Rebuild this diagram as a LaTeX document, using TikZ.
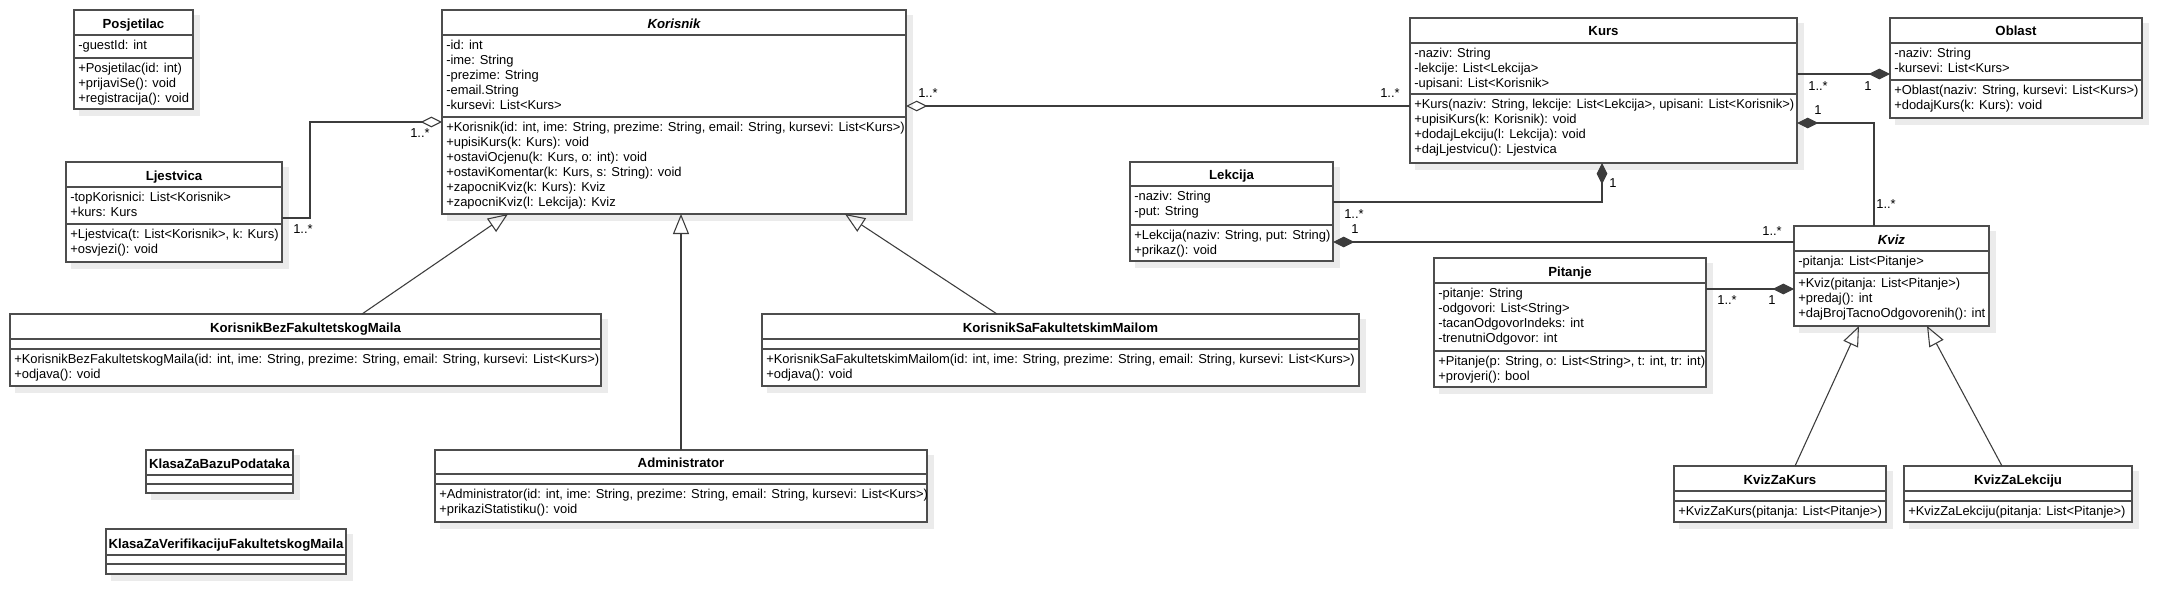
\documentclass[tikz,border=0pt]{standalone}
\usepackage{fontspec}
\setmainfont{Liberation Sans}
\usetikzlibrary{arrows.meta,calc,fit}
\definecolor{boxc}{HTML}{4D4D4D}
\definecolor{linec}{HTML}{3C3C3C}
\definecolor{shadc}{HTML}{EBEBEB}
\tikzset{
 box/.style={draw=boxc, fill=white, line width=1.1pt, inner sep=0pt, outer sep=0pt},
 sepline/.style={draw=boxc, line width=1.1pt},
 txt/.style={font=\fontsize{9.7}{11}\selectfont, inner sep=0pt, text=black},
 ttl/.style={font=\fontsize{9.9}{11}\selectfont\bfseries, inner sep=0pt, text=black},
 conn/.style={draw=linec, line width=0.8pt},
 gen/.style={conn, -{Triangle[open, length=15pt, width=12pt]}},
 agg/.style={conn, -{Diamond[open, length=16pt, width=8pt]}},
 comp/.style={conn, -{Diamond[length=16pt, width=8pt]}},
 mult/.style={font=\fontsize{9.7}{11}\selectfont, inner sep=0pt, text=black},
}
% #1 name, #2 x1, #3 y1, #4 x2, #5 y2, #6 header sep, #7 attribute sep
\newcommand\umlbox[7]{%
  \fill[shadc] (#2+5,#3+5) rectangle (#4+7,#5+7);
  \node[box, fit={(#2,#3)(#4,#5)}] (#1) {};
  \draw[sepline] (#2,#6) -- (#4,#6);
  \draw[sepline] (#2,#7) -- (#4,#7);
}
% #1 name, #2 x1, #3 x2, #4 baseline, #5 text
\newcommand\umltitle[5]{%
  \node[ttl, anchor=base] (#1) at ({(#2+#3)/2},#4) {#5};
}
% #1 name prefix, #2 x1, #3 first baseline, #4 list of lines
\newcommand\umllines[4]{%
  \foreach \t [count=\i from 0] in {#4} {
    \node[txt, anchor=base west] (#1\i) at (#2+4,#3+15*\i) {\t};
  }
}
\begin{document}
\begin{tikzpicture}[x=0.75pt,y=-0.75pt]
\fill[white] (0,0) rectangle (2182,614);
\useasboundingbox (0,0) rectangle (2182,614);

% Posjetilac
\umlbox{posj}{74}{10}{193}{109}{35}{58}
\umltitle{posjt}{74}{193}{28}{Posjetilac}
\umllines{posja}{74}{49}{{-guestId: int}}
\umllines{posjm}{74}{72}{{+Posjetilac(id: int)},{+prijaviSe(): void},{+registracija(): void}}

% Korisnik
\umlbox{korisnik}{442}{10}{906}{214}{35}{117}
\umltitle{korisnikt}{442}{906}{28}{\itshape Korisnik}
\umllines{korisnika}{442}{49}{{-id: int},{-ime: String},{-prezime: String},{-email.String},{-kursevi: List<Kurs>}}
\umllines{korisnikm}{442}{131}{{+Korisnik(id: int, ime: String, prezime: String, email: String, kursevi: List<Kurs>)},{+upisiKurs(k: Kurs): void},{+ostaviOcjenu(k: Kurs, o: int): void},{+ostaviKomentar(k: Kurs, s: String): void},{+zapocniKviz(k: Kurs): Kviz},{+zapocniKviz(l: Lekcija): Kviz}}

% Ljestvica
\umlbox{ljestvica}{66}{162}{282}{262}{187}{224}
\umltitle{ljestvicat}{66}{282}{180}{Ljestvica}
\umllines{ljestvicaa}{66}{201}{{-topKorisnici: List<Korisnik>},{+kurs: Kurs}}
\umllines{ljestvicam}{66}{238}{{+Ljestvica(t: List<Korisnik>, k: Kurs)},{+osvjezi(): void}}

% Kurs
\umlbox{kurs}{1410}{18}{1797}{163}{43}{94}
\umltitle{kurst}{1410}{1797}{36}{Kurs}
\umllines{kursa}{1410}{57}{{-naziv: String},{-lekcije: List<Lekcija>},{-upisani: List<Korisnik>}}
\umllines{kursm}{1410}{108}{{+Kurs(naziv: String, lekcije: List<Lekcija>, upisani: List<Korisnik>)},{+upisiKurs(k: Korisnik): void},{+dodajLekciju(l: Lekcija): void},{+dajLjestvicu(): Ljestvica}}

% Oblast
\umlbox{oblast}{1890}{18}{2142}{118}{43}{80}
\umltitle{oblastt}{1890}{2142}{36}{Oblast}
\umllines{oblasta}{1890}{57}{{-naziv: String},{-kursevi: List<Kurs>}}
\umllines{oblastm}{1890}{94}{{+Oblast(naziv: String, kursevi: List<Kurs>)},{+dodajKurs(k: Kurs): void}}

% Lekcija
\umlbox{lekcija}{1130}{162}{1333}{261}{186}{225}
\umltitle{lekcijat}{1130}{1333}{179}{Lekcija}
\umllines{lekcijaa}{1130}{200}{{-naziv: String},{-put: String}}
\umllines{lekcijam}{1130}{239}{{+Lekcija(naziv: String, put: String)},{+prikaz(): void}}

% Pitanje
\umlbox{pitanje}{1434}{258}{1706}{387}{283}{351}
\umltitle{pitanjet}{1434}{1706}{276}{Pitanje}
\umllines{pitanjea}{1434}{297}{{-pitanje: String},{-odgovori: List<String>},{-tacanOdgovorIndeks: int},{-trenutniOdgovor: int}}
\umllines{pitanjem}{1434}{365}{{+Pitanje(p: String, o: List<String>, t: int, tr: int)},{+provjeri(): bool}}

% Kviz
\umlbox{kviz}{1794}{226}{1989}{326}{251}{273}
\umltitle{kvizt}{1794}{1989}{244}{\itshape Kviz}
\umllines{kviza}{1794}{265}{{-pitanja: List<Pitanje>}}
\umllines{kvizm}{1794}{287}{{+Kviz(pitanja: List<Pitanje>)},{+predaj(): int},{+dajBrojTacnoOdgovorenih(): int}}

% KvizZaKurs
\umlbox{kvizk}{1674}{466}{1886}{522}{491}{501}
\umltitle{kvizkt}{1674}{1886}{484}{KvizZaKurs}
\umllines{kvizkm}{1674}{515}{{+KvizZaKurs(pitanja: List<Pitanje>)}}

% KvizZaLekciju
\umlbox{kvizl}{1904}{466}{2132}{522}{491}{501}
\umltitle{kvizlt}{1904}{2132}{484}{KvizZaLekciju}
\umllines{kvizlm}{1904}{515}{{+KvizZaLekciju(pitanja: List<Pitanje>)}}

% KorisnikBezFakultetskogMaila
\umlbox{korbez}{10}{314}{601}{386}{339}{349}
\umltitle{korbezt}{10}{601}{332}{KorisnikBezFakultetskogMaila}
\umllines{korbezm}{10}{363}{{+KorisnikBezFakultetskogMaila(id: int, ime: String, prezime: String, email: String, kursevi: List<Kurs>)},{+odjava(): void}}

% KorisnikSaFakultetskimMailom
\umlbox{korsa}{762}{314}{1359}{386}{339}{349}
\umltitle{korsat}{762}{1359}{332}{KorisnikSaFakultetskimMailom}
\umllines{korsam}{762}{363}{{+KorisnikSaFakultetskimMailom(id: int, ime: String, prezime: String, email: String, kursevi: List<Kurs>)},{+odjava(): void}}

% Administrator
\umlbox{admin}{435}{450}{927}{522}{474}{484}
\umltitle{admint}{435}{927}{467}{Administrator}
\umllines{adminm}{435}{498}{{+Administrator(id: int, ime: String, prezime: String, email: String, kursevi: List<Kurs>)},{+prikaziStatistiku(): void}}

% KlasaZaBazuPodataka
\umlbox{baza}{146}{450}{293}{493}{475}{484}
\umltitle{bazat}{146}{293}{468}{KlasaZaBazuPodataka}

% KlasaZaVerifikacijuFakultetskogMaila
\umlbox{verif}{106}{529}{346}{574}{555}{564}
\umltitle{veriftt}{106}{346}{548}{KlasaZaVerifikacijuFakultetskogMaila}

% ---- associations ----
\draw[agg] ($(ljestvica.north east)+(0,56)$) -- ++(28,0) |- ($(korisnik.north west)+(0,112)$);
\node[mult] (m1) at (303,229) {1..*};
\node[mult] (m2) at (420,133) {1..*};

\draw[agg] ($(kurs.north west)+(0,88)$) -- ($(korisnik.north east)+(0,96)$);
\node[mult] (m3) at (928,93) {1..*};
\node[mult] (m4) at (1390,93) {1..*};

\draw[comp] ($(kurs.north east)+(0,56)$) -- ($(oblast.north west)+(0,56)$);
\node[mult] (m5) at (1818,86) {1..*};
\node[mult] (m6) at (1868,86) {1};

\draw[comp] ($(kviz.north west)+(80,0)$) |- ($(kurs.north east)+(0,105)$);
\node[mult] (m7) at (1818,110) {1};
\node[mult] (m8) at (1886,204) {1..*};

\draw[comp] ($(lekcija.north east)+(0,40)$) -| ($(kurs.south west)+(192,0)$);
\node[mult] (m9) at (1613,183) {1};
\node[mult] (m10) at (1354,214) {1..*};

\draw[comp] ($(kviz.north west)+(0,16)$) -- ($(lekcija.north east)+(0,80)$);
\node[mult] (m11) at (1355,229) {1};
\node[mult] (m12) at (1772,231) {1..*};

\draw[comp] ($(pitanje.north east)+(0,31)$) -- ($(kviz.north west)+(0,63)$);
\node[mult] (m13) at (1727,300) {1..*};
\node[mult] (m14) at (1772,300) {1};

% ---- generalizations ----
\draw[gen] ($(korbez.north west)+(352,0)$) -- ($(korisnik.south west)+(66,0)$);
\draw[gen] ($(admin.north west)+(246,0)$) -- ($(korisnik.south west)+(239,0)$);
\draw[gen] ($(korsa.north west)+(235,0)$) -- ($(korisnik.south west)+(403,0)$);
\draw[gen] ($(kvizk.north west)+(121,0)$) -- ($(kviz.south west)+(65,0)$);
\draw[gen] ($(kvizl.north west)+(98,0)$) -- ($(kviz.south west)+(133,0)$);
\end{tikzpicture}
\end{document}
